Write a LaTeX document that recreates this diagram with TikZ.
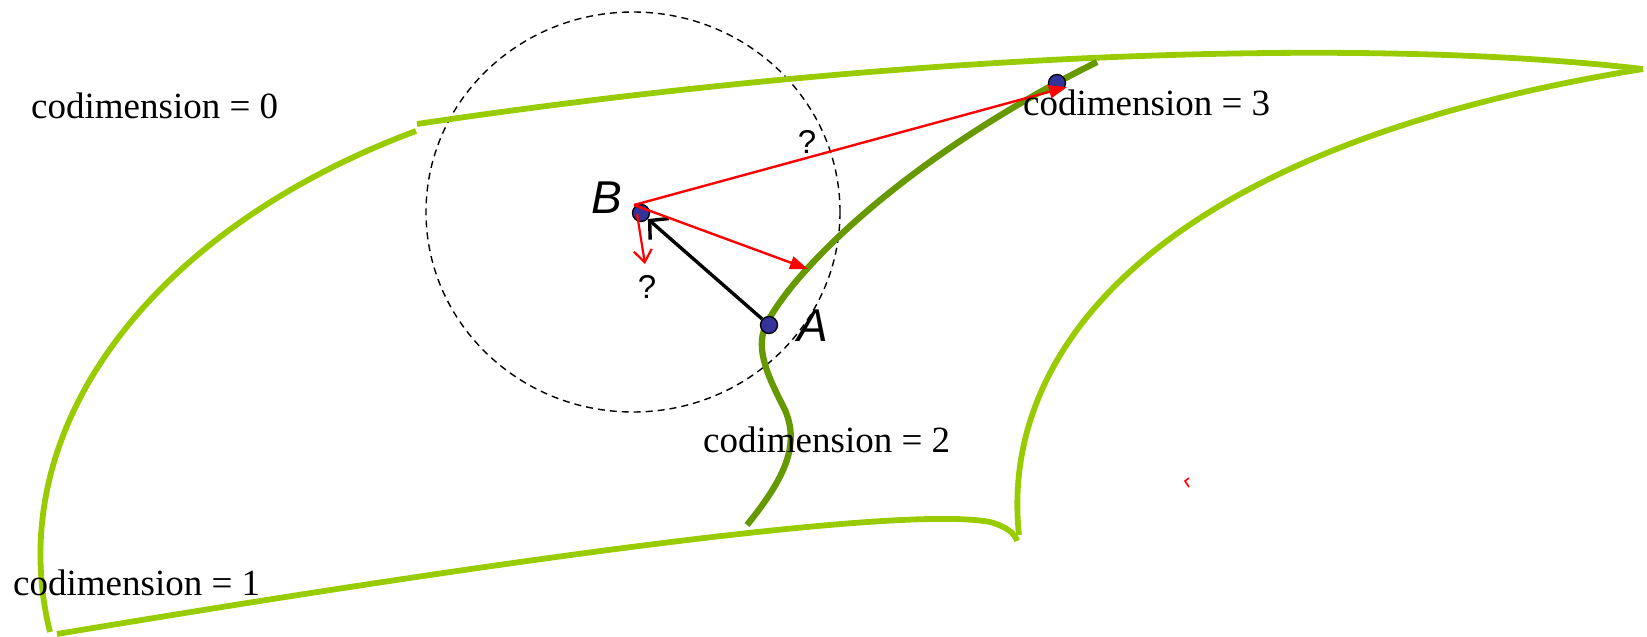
\documentclass[tikz,border=0pt]{standalone}
\usepackage{fontspec}
\setmainfont{Liberation Serif}
\newfontfamily\arialfont{Liberation Sans}
\usetikzlibrary{arrows.meta}
\definecolor{lightgrn}{HTML}{99CC00}
\definecolor{darkgrn}{HTML}{669900}
\definecolor{ptblue}{HTML}{333399}
\tikzset{
  surf/.style={draw=lightgrn, line width=5.8pt},
  edgecurve/.style={draw=darkgrn, line width=6.3pt},
  pt/.style={circle, fill=ptblue, draw=black, line width=1.3pt, minimum size=17pt, inner sep=0pt},
  codim/.style={font=\fontsize{37}{40}\selectfont, anchor=base west, inner sep=0pt},
  ptlabel/.style={font=\arialfont\itshape\fontsize{46}{50}\selectfont, inner sep=0pt},
  qlabel/.style={font=\arialfont\fontsize{33}{36}\selectfont, inner sep=0pt},
  redarrow/.style={draw=red, line width=2.4pt, -{Triangle[length=18pt,width=13pt]}},
  redsmall/.style={draw=red, line width=2.2pt, -{Straight Barb[length=12pt,width=18pt]}},
  blackarrow/.style={draw=black, line width=3.4pt, -{Straight Barb[length=13pt,width=28pt]}},
  ball/.style={draw=black, line width=1.4pt, dash pattern=on 7pt off 5pt}
}
\begin{document}
\begin{tikzpicture}[x=1pt,y=-1pt]
\path[use as bounding box] (0,0) rectangle (1647,637);
% dashed neighbourhood
\draw[ball] (633,212) ellipse [x radius=207, y radius=200];
% surfaces
\draw[surf] (417,124) .. controls (880,55) and (1350,35) .. (1643,69);
\draw[surf] (416,131) .. controls (150,230) and (0,430) .. (50,632);
\draw[surf] (57,634) .. controls (500,560) and (900,505) .. (990,522)
            .. controls (1005,526) and (1015,533) .. (1017,541);
\draw[surf] (1019,535) .. controls (1000,360) and (1140,150) .. (1643,69);
% codimension 2 curve
\draw[edgecurve] (747,525) .. controls (785,478) and (800,445) .. (785,410)
                 .. controls (770,380) and (754,350) .. (766,325)
                 .. controls (790,275) and (900,160) .. (1097,62);
% points
\node[pt] (B) at (641,213) {};
\node[pt] (A) at (769,325) {};
\node[pt] (C) at (1057,83) {};
\coordinate (Bs) at (634,205);
\coordinate (t3) at (1067,87);
\coordinate (t2) at (808,269);
\coordinate (s1) at (637,214);
\coordinate (t1) at (645,264);
% arrows
\draw[blackarrow] (A) -- (B);
\draw[redarrow] (Bs) -- (t3);
\draw[redarrow] (Bs) -- (t2);
\draw[redsmall] (s1) -- (t1);
\draw[red, line width=1.6pt] (1189,478) -- (1185,481) -- (1189,487);
% labels
\node[ptlabel] (Blab) at (607,198) {B};
\node[ptlabel] (Alab) at (813,326) {A};
\node[qlabel] (q1) at (807,142) {?};
\node[qlabel] (q2) at (647,287) {?};
\node[codim] (c0) at (31,118) {codimension = 0};
\node[codim] (c1) at (13,595) {codimension = 1};
\node[codim] (c2) at (703,452) {codimension = 2};
\node[codim] (c3) at (1023,115) {codimension = 3};
\end{tikzpicture}
\end{document}
